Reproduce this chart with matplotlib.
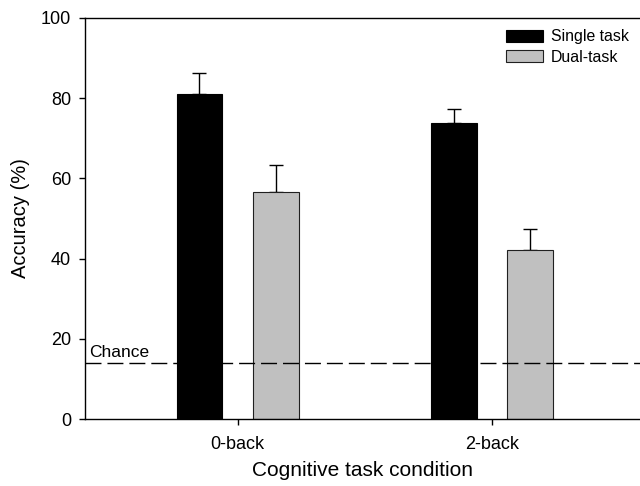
import matplotlib
matplotlib.use("Agg")
import matplotlib.pyplot as plt
import numpy as np

plt.rcParams['font.family'] = ['Liberation Sans', 'DejaVu Sans']

categories = ["0-back", "2-back"]
single_vals = [81.0, 73.7]
single_err = [5.4, 3.5]
dual_vals = [56.5, 42.1]
dual_err = [6.8, 5.3]
series_names = ["Single task", "Dual-task"]
chance_level = 14.0
yticks = [0, 20, 40, 60, 80, 100]

fig = plt.figure(figsize=(6.4, 4.86), dpi=100)
ax = fig.add_axes([85/640, 1 - 419/486, 1 - 85/640, 401/486])

x = np.arange(len(categories))
w = 0.18
off = 0.15
ax.bar(x - off, single_vals, w, color='black', edgecolor='black', linewidth=0.8,
       label=series_names[0], zorder=2)
ax.bar(x + off, dual_vals, w, color='#c0c0c0', edgecolor='#202020', linewidth=0.8,
       label=series_names[1], zorder=2)
ax.errorbar(x - off, single_vals, yerr=[np.zeros(len(x)), single_err], fmt='none',
            ecolor='black', elinewidth=1, capsize=5, capthick=1, zorder=1)
ax.errorbar(x + off, dual_vals, yerr=[np.zeros(len(x)), dual_err], fmt='none',
            ecolor='black', elinewidth=1, capsize=5, capthick=1, zorder=1)

ax.axhline(chance_level, color='black', linewidth=1, dashes=(11.5, 4.3), zorder=3)
ax.text(-0.585, chance_level + 1.5, "Chance", fontsize=12.5, va='baseline', ha='left')

ax.set_xlim(-0.6, 1.583)
ax.set_ylim(0, 100)
ax.set_xticks(x)
ax.set_xticklabels(categories)
ax.set_yticks(yticks)
ax.tick_params(axis='both', direction='out', length=4, width=1, labelsize=13)
ax.tick_params(axis='x', pad=8)
ax.tick_params(axis='y', pad=6)
ax.spines['right'].set_visible(False)
for s in ['left', 'top', 'bottom']:
    ax.spines[s].set_linewidth(1)

ax.set_xlabel("Cognitive task condition", fontsize=15, labelpad=6)
ax.set_ylabel("Accuracy (%)", fontsize=14.5, labelpad=8)

leg = ax.legend(loc='upper right', bbox_to_anchor=(1.0, 1.0), frameon=False,
                fontsize=11.4, handlelength=2.35, handleheight=0.8, handletextpad=0.5,
                labelspacing=0.35, borderaxespad=0.3)

fig.savefig("out.png", dpi=100)
